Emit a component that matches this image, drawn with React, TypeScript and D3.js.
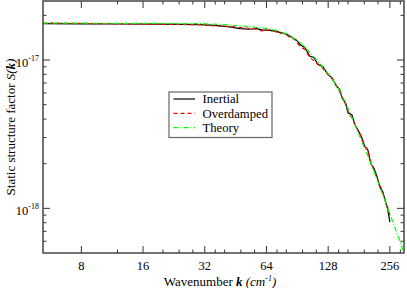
import React from "react";
import * as d3 from "d3";

// wavenumber k (cm^-1) and S(k)
const inertialK = [5.19, 7.87, 12.33, 19.32, 30.29, 35.84, 42.42, 47.47, 53.1, 56.8, 60.8, 66.5, 71.1, 76.1, 80.5, 85.1, 90.0, 93.1, 98.5, 104.2, 109.0, 114.0, 120.6, 127.6, 133.4, 140.7, 146.0, 149.3, 156.2, 159.7, 167.0, 172.8, 178.7, 186.9, 193.3, 199.9, 206.8, 213.9, 221.2, 228.8, 236.6, 244.7, 250.3, 256];
const inertialS = [1.758e-17, 1.752e-17, 1.749e-17, 1.744e-17, 1.73e-17, 1.712e-17, 1.672e-17, 1.626e-17, 1.613e-17, 1.634e-17, 1.596e-17, 1.583e-17, 1.559e-17, 1.523e-17, 1.488e-17, 1.426e-17, 1.355e-17, 1.273e-17, 1.215e-17, 1.061e-17, 1.04e-17, 9.32e-18, 9.04e-18, 7.98e-18, 7.61e-18, 6.65e-18, 6.32e-18, 5.58e-18, 5.08e-18, 4.41e-18, 4.28e-18, 3.66e-18, 3.39e-18, 2.99e-18, 2.6e-18, 2.48e-18, 1.99e-18, 1.87e-18, 1.65e-18, 1.39e-18, 1.29e-18, 1.086e-18, 9.74e-19, 8.08e-19];

const overdampedK = [5.19, 7.87, 12.33, 19.32, 30.29, 35.84, 42.42, 50.2, 56.2, 60.8, 66.5, 72.7, 78.7, 83.2, 88.0, 93.1, 98.5, 104.2, 110.2, 116.6, 123.3, 130.5, 134.9, 142.7, 149.3, 154.4, 161.5, 167.0, 174.7, 182.8, 191.1, 197.7, 206.8, 216.3, 223.7, 234.0, 242.0, 250.3, 256];
const overdampedS = [1.774e-17, 1.766e-17, 1.752e-17, 1.739e-17, 1.733e-17, 1.698e-17, 1.685e-17, 1.646e-17, 1.621e-17, 1.571e-17, 1.596e-17, 1.535e-17, 1.504e-17, 1.42e-17, 1.376e-17, 1.234e-17, 1.178e-17, 1.04e-17, 9.77e-18, 9.18e-18, 8.49e-18, 7.73e-18, 7.38e-18, 6.52e-18, 5.66e-18, 5.16e-18, 4.35e-18, 4.08e-18, 3.55e-18, 3.18e-18, 2.68e-18, 2.52e-18, 2.06e-18, 1.73e-18, 1.55e-18, 1.33e-18, 1.156e-18, 1.005e-18, 9.01e-19];

const theoryK = [5.19, 9.85, 17.27, 30.29, 37.92, 47.47, 56.18, 66.5, 74.4, 83.2, 93.1, 104.2, 116.6, 130.4, 146.0, 163.4, 182.8, 204.5, 228.8, 256, 286.5, 299.6];
const theoryS = [1.774e-17, 1.77e-17, 1.766e-17, 1.758e-17, 1.739e-17, 1.703e-17, 1.669e-17, 1.621e-17, 1.559e-17, 1.464e-17, 1.313e-17, 1.124e-17, 9.47e-18, 7.85e-18, 6.22e-18, 4.41e-18, 3.04e-18, 2.09e-18, 1.39e-18, 9.15e-19, 6.0e-19, 4.98e-19];

const xMajor = [8, 16, 32, 64, 128, 256];
const xMinor = [12, 20, 24, 28, 36, 40, 48, 56, 72, 80, 96, 112, 144, 160, 192, 224, 288];
const yMajor = [1e-17, 1e-18];
const yMajorExp = ["-17", "-18"];
const yMinor = [2e-17, 9e-18, 8e-18, 7e-18, 6e-18, 5e-18, 4e-18, 3e-18, 2e-18, 9e-19, 8e-19, 7e-19, 6e-19];

const seriesNames = ["Inertial", "Overdamped", "Theory"];
const seriesColors = ["#000000", "#ff0000", "#00ff00"];
const seriesDash = ["none", "4,3", "5,2,1,2"];

const W = 407;
const H = 288;
const left = 43, right = 404, top = 1, bottom = 253;
const font = "Liberation Serif, Times New Roman, Times, DejaVu Serif, serif";

export default function App() {
  const x = d3.scaleLog().base(2).domain([5.2, 300]).range([left, right]);
  const y = d3.scaleLog().domain([5e-19, 2.5e-17]).range([bottom, top]);

  const line = d3.line<[number, number]>()
    .x(d => x(d[0]))
    .y(d => y(d[1]));

  const series = [
    d3.zip(inertialK, inertialS) as [number, number][],
    d3.zip(overdampedK, overdampedS) as [number, number][],
    d3.zip(theoryK, theoryS) as [number, number][],
  ];

  const majorLen = 7, minorLen = 3.5;
  const tickColor = "#333";

  return (
    <svg width={W} height={H} style={{ position: "absolute", left: 0, top: 0, background: "#fff", fontFamily: font }}>
      <defs>
        <clipPath id="plotClip">
          <rect x={left} y={top} width={right - left} height={bottom - top} />
        </clipPath>
      </defs>

      {/* data */}
      <g clipPath="url(#plotClip)" fill="none">
        {series.map((s, i) => (
          <path key={i} d={line(s) || ""} stroke={seriesColors[i]} strokeWidth={1.2}
            strokeDasharray={seriesDash[i]} />
        ))}
      </g>

      {/* ticks, inward on all four sides */}
      <g stroke={tickColor} strokeWidth={1}>
        {xMajor.map(v => (
          <g key={"xM" + v}>
            <line x1={x(v)} x2={x(v)} y1={bottom} y2={bottom - majorLen} />
            <line x1={x(v)} x2={x(v)} y1={top} y2={top + majorLen} />
          </g>
        ))}
        {xMinor.map(v => (
          <g key={"xm" + v}>
            <line x1={x(v)} x2={x(v)} y1={bottom} y2={bottom - minorLen} />
            <line x1={x(v)} x2={x(v)} y1={top} y2={top + minorLen} />
          </g>
        ))}
        {yMajor.map(v => (
          <g key={"yM" + v}>
            <line x1={left} x2={left + majorLen} y1={y(v)} y2={y(v)} />
            <line x1={right} x2={right - majorLen} y1={y(v)} y2={y(v)} />
          </g>
        ))}
        {yMinor.map(v => (
          <g key={"ym" + v}>
            <line x1={left} x2={left + minorLen} y1={y(v)} y2={y(v)} />
            <line x1={right} x2={right - minorLen} y1={y(v)} y2={y(v)} />
          </g>
        ))}
      </g>

      {/* frame */}
      <rect x={left} y={top} width={right - left} height={bottom - top} fill="none" stroke="#444" strokeWidth={1.5} />

      {/* tick labels */}
      <g fontSize={12.5} textAnchor="middle" fill="#000">
        {xMajor.map(v => (
          <text key={"xl" + v} x={x(v)} y={269.5}>{v}</text>
        ))}
      </g>
      <g fill="#000">
        {yMajor.map((v, i) => (
          <text key={"yl" + v} x={39} y={y(v) + 6.5} textAnchor="end" fontSize={12.5}>
            <tspan>10</tspan>
            <tspan dy={-5.5} fontSize={8}>{yMajorExp[i]}</tspan>
          </text>
        ))}
      </g>

      {/* axis titles */}
      <text x={220} y={286} textAnchor="middle" fontSize={13} fill="#000">
        <tspan>Wavenumber </tspan>
        <tspan fontWeight="bold" fontStyle="italic">k</tspan>
        <tspan fontStyle="italic"> (cm</tspan>
        <tspan fontStyle="italic" fontSize={8} dy={-5}>-1</tspan>
        <tspan fontStyle="italic" dy={5}>)</tspan>
      </text>
      <text transform={`translate(15,${(top + bottom) / 2}) rotate(-90)`} textAnchor="middle" fontSize={13} fill="#000">
        <tspan>Static structure factor </tspan>
        <tspan fontStyle="italic">S(</tspan>
        <tspan fontStyle="italic" fontWeight="bold">k</tspan>
        <tspan fontStyle="italic">)</tspan>
      </text>

      {/* legend */}
      <g>
        <rect x={169} y={92} width={103} height={45.5} fill="#fff" stroke="#666" strokeWidth={1.2} />
        {seriesNames.map((name, i) => {
          const ry = 99 + i * 14.3;
          return (
            <g key={name}>
              <line x1={173.5} x2={195} y1={ry} y2={ry} stroke={seriesColors[i]} strokeWidth={1.2}
                strokeDasharray={seriesDash[i]} />
              <text x={202.5} y={ry + 4.3} fontSize={12.7} fill="#000">{name}</text>
            </g>
          );
        })}
      </g>
    </svg>
  );
}
